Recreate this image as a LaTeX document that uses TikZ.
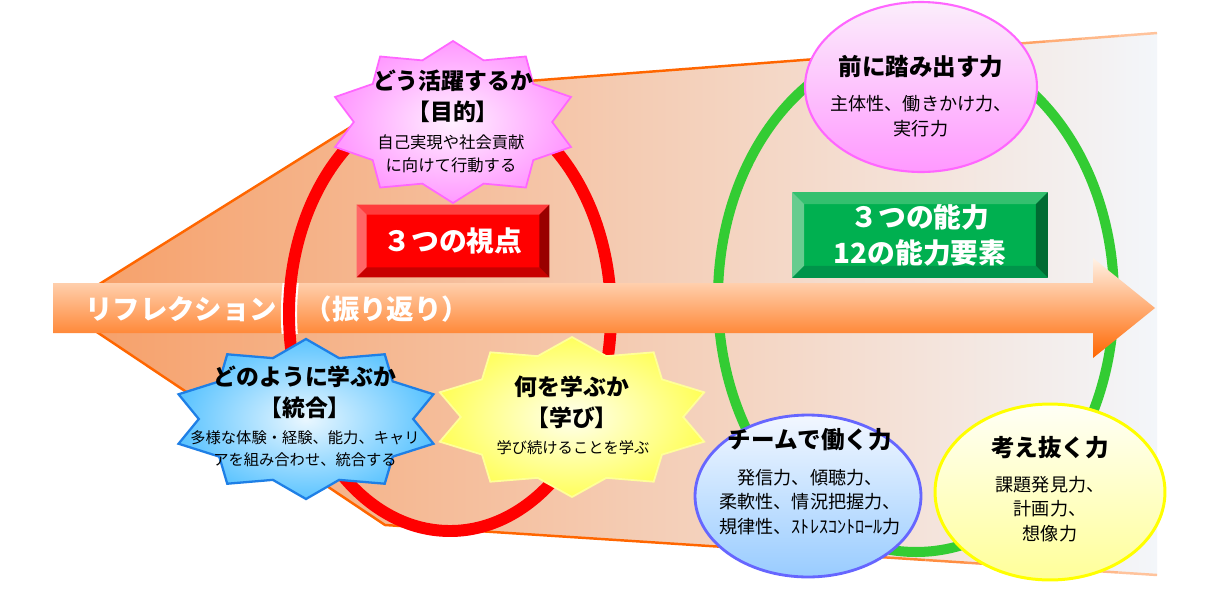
\documentclass[tikz,border=0pt]{standalone}
\usepackage{fontspec}
\setmainfont{Noto Sans CJK JP}
\usetikzlibrary{shapes.geometric,calc}
\definecolor{orng}{HTML}{FF6600}
\definecolor{funA}{HTML}{F69E66}
\definecolor{funB}{HTML}{FCDCC6}
\definecolor{funC}{HTML}{F3F6FA}
\definecolor{arrA}{HTML}{FFF2E6}
\definecolor{ringred}{HTML}{FF0000}
\definecolor{ringgreen}{HTML}{33CC33}
\definecolor{pinkIn}{HTML}{FFF0FF}
\definecolor{pinkOut}{HTML}{FF99FF}
\definecolor{pinkLine}{HTML}{FF66FF}
\definecolor{blueIn}{HTML}{EAF7FF}
\definecolor{blueOut}{HTML}{5CC4FF}
\definecolor{blueLine}{HTML}{1E7FE6}
\definecolor{yelIn}{HTML}{FFFFEE}
\definecolor{yelOut}{HTML}{FFFF5C}
\definecolor{yelLine}{HTML}{FFFF99}
\definecolor{epTop}{HTML}{FBEEFB}
\definecolor{epBot}{HTML}{FF99FF}
\definecolor{ebTop}{HTML}{F2F7FF}
\definecolor{ebBot}{HTML}{99CCFF}
\definecolor{ebLine}{HTML}{6666FF}
\definecolor{eyTop}{HTML}{FFFFF6}
\definecolor{eyBot}{HTML}{FFFF99}
\definecolor{eyLine}{HTML}{FFFF00}
\definecolor{rbFace}{HTML}{FF0000}
\definecolor{rbTop}{HTML}{FF3C3C}
\definecolor{rbLeft}{HTML}{FF6666}
\definecolor{rbRight}{HTML}{990000}
\definecolor{rbBot}{HTML}{C80000}
\definecolor{gbFace}{HTML}{00B050}
\definecolor{gbTop}{HTML}{34C06F}
\definecolor{gbLeft}{HTML}{66CC8F}
\definecolor{gbRight}{HTML}{006B32}
\definecolor{gbBot}{HTML}{00944A}
\newcommand{\fsz}[2]{\fontsize{#1}{#2}\selectfont}
\newcommand{\starpath}[4]{plot[samples at={0,...,19}, variable=\k] ({#1+#3*(1-0.2*mod(\k,2))*cos(90+18*\k)}, {#2-#4*(1-0.2*mod(\k,2))*sin(90+18*\k)}) -- cycle}
\tikzset{
  ttl/.style={font=\bfseries\fsz{13pt}{17.5pt}, align=center, inner sep=0, text=black},
  starsub/.style={font=\fsz{8.7pt}{12.6pt}, align=center, inner sep=0, text=black},
  elltitle/.style={font=\bfseries\fsz{13.4pt}{16pt}, align=center, inner sep=0, text=black},
  ellsub/.style={font=\fsz{10.3pt}{14pt}, align=center, inner sep=0, text=black},
  boxtext/.style={font=\bfseries\fsz{15.8pt}{20.5pt}, align=center, text=white},
  ringline/.style={draw, fill=none},
  ellcap/.style={ellipse, inner sep=0}
}
\begin{document}
\begin{tikzpicture}[x=0.02cm,y=-0.02cm]
\useasboundingbox (0,0) rectangle (1227,589);
\fill[white] (0,0) rectangle (1227,589);

% funnel background
\coordinate (apex) at (61,308);
\coordinate (tc) at (410,90);
\coordinate (tr) at (1157,33);
\coordinate (br) at (1157,575);
\coordinate (bc) at (385,525);
\shade[left color=funA, middle color=funB, right color=funC] (apex) -- (tc) -- (tr) -- (br) -- (bc) -- cycle;
\draw[orng, line width=1.4pt, line join=round] ($(tc)!0.55!(tr)$) -- (tc) -- (apex) -- (bc) -- ($(bc)!0.55!(br)$);
\foreach \i in {0,...,8}{
  \pgfmathsetmacro\a{0.55+0.05*\i}
  \pgfmathsetmacro\b{0.60+0.05*\i}
  \pgfmathtruncatemacro\c{95-7*\i}
  \draw[orng!\c!white, line width=1.4pt] ($(tc)!\a!(tr)$) -- ($(tc)!\b!(tr)$);
  \draw[orng!\c!white, line width=1.4pt] ($(bc)!\a!(br)$) -- ($(bc)!\b!(br)$);
}

% rings
\draw[ringline, ringred, line width=6.8pt] (450,314) ellipse [x radius=161, y radius=217];
\draw[ringline, ringgreen, line width=5.7pt] (916,298) ellipse [x radius=198, y radius=254];

% arrow
\shade[top color=arrA, middle color=orng, bottom color=orng]
  (53,283) -- (1093,283) -- (1093,258) -- (1155,308) -- (1093,358) -- (1093,333) -- (53,333) -- cycle;
% left part of the red ring crossing over the arrow
\begin{scope}
  \clip (53,283) rectangle (1093,333);
  \draw[white, line width=9.2pt] plot[domain=168:190, samples=20] ({450+161*cos(\x)},{314-217*sin(\x)});
  \draw[ringred, line width=6.8pt] plot[domain=168:190, samples=20] ({450+161*cos(\x)},{314-217*sin(\x)});
\end{scope}
\node[font=\bfseries\fsz{15.6pt}{18pt}, text=white, anchor=west, inner sep=0] (refl) at (85,309) {リフレクション　（振り返り）};

% red box
\node[boxtext, fill=rbFace, minimum width=3.84cm, minimum height=1.44cm, inner sep=0] (views) at (453,241) {３つの視点};
\fill[rbTop] (views.north west) -- (views.north east) -- ($(views.north east)+(-10,10)$) -- ($(views.north west)+(10,10)$) -- cycle;
\fill[rbLeft] (views.north west) -- ($(views.north west)+(10,10)$) -- ($(views.south west)+(10,-10)$) -- (views.south west) -- cycle;
\fill[rbRight] (views.north east) -- (views.south east) -- ($(views.south east)+(-10,-10)$) -- ($(views.north east)+(-10,10)$) -- cycle;
\fill[rbBot] (views.south west) -- (views.south east) -- ($(views.south east)+(-10,-10)$) -- ($(views.south west)+(10,-10)$) -- cycle;

% green box
\node[boxtext, fill=gbFace, minimum width=5.1cm, minimum height=1.7cm, inner sep=0] (abil) at (920,235) {３つの能力\\12の能力要素};
\fill[gbTop] (abil.north west) -- (abil.north east) -- ($(abil.north east)+(-12,12)$) -- ($(abil.north west)+(12,12)$) -- cycle;
\fill[gbLeft] (abil.north west) -- ($(abil.north west)+(12,12)$) -- ($(abil.south west)+(12,-12)$) -- (abil.south west) -- cycle;
\fill[gbRight] (abil.north east) -- (abil.south east) -- ($(abil.south east)+(-12,-12)$) -- ($(abil.north east)+(-12,12)$) -- cycle;
\fill[gbBot] (abil.south west) -- (abil.south east) -- ($(abil.south east)+(-12,-12)$) -- ($(abil.south west)+(12,-12)$) -- cycle;

% stars
\shadedraw[inner color=pinkIn, outer color=pinkOut, draw=pinkLine, line width=1pt, line join=miter] \starpath{453}{122}{124}{81};
\node[ttl] (purpT) at (453,96) {どう活躍するか\\【目的】};
\node[starsub, font=\fsz{9.3pt}{13pt}] (purpS) at (451,154) {自己実現や社会貢献\\に向けて行動する};

\shadedraw[inner color=blueIn, outer color=blueOut, draw=blueLine, line width=1.3pt, line join=miter] \starpath{306}{419}{134}{80};
\node[ttl] (integT) at (305,392) {どのように学ぶか\\【統合】};
\node[starsub] (integS) at (305,449) {多様な体験・経験、能力、キャリ\\アを組み合わせ、統合する};

\shadedraw[inner color=yelIn, outer color=yelOut, draw=yelLine, line width=1pt, line join=miter] \starpath{572}{417}{139}{80};
\node[ttl] (learnT) at (572,402) {何を学ぶか\\【学び】};
\node[starsub] (learnS) at (573,448) {学び続けることを学ぶ};

% ability ellipses
\node[ellcap, draw=pinkLine, line width=1.2pt, top color=epTop, bottom color=epBot, minimum width=4.64cm, minimum height=3.4cm] (forward) at (921,87) {};
\node[elltitle] (forwardT) at (921,67) {前に踏み出す力};
\node[ellsub] (forwardS) at (921,116) {主体性、働きかけ力、\\実行力};

\node[ellcap, draw=ebLine, line width=1.6pt, top color=ebTop, bottom color=ebBot, minimum width=4.52cm, minimum height=3.24cm] (team) at (808,496) {};
\node[elltitle] (teamT) at (810,440) {チームで働く力};
\node[ellsub] (teamS) at (810,502) {発信力、傾聴力、\\柔軟性、情況把握力、\\規律性、ｽﾄﾚｽｺﾝﾄﾛｰﾙ力};

\node[ellcap, draw=eyLine, line width=1.7pt, top color=eyTop, bottom color=eyBot, minimum width=4.6cm, minimum height=3.52cm] (think) at (1050,492) {};
\node[elltitle] (thinkT) at (1050,448) {考え抜く力};
\node[ellsub] (thinkS) at (1050,509) {課題発見力、\\計画力、\\想像力};
\end{tikzpicture}
\end{document}
